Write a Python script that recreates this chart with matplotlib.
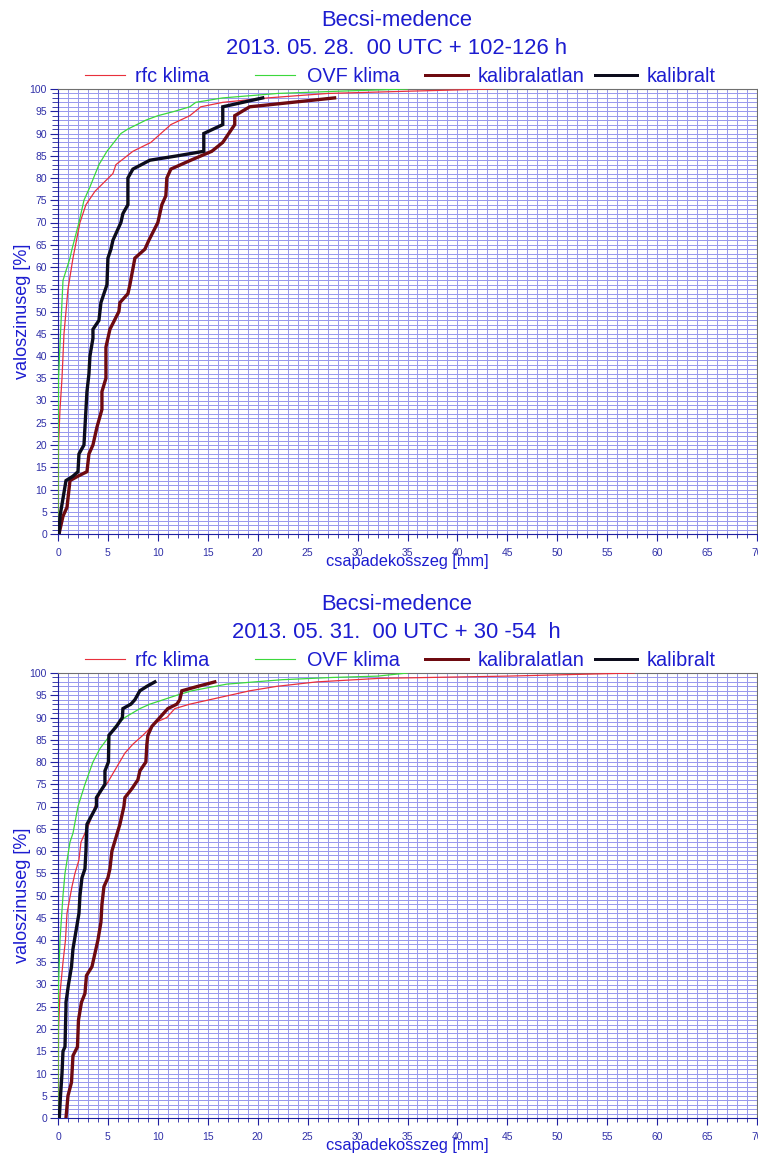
import matplotlib
matplotlib.use('Agg')
import matplotlib.pyplot as plt
from matplotlib.lines import Line2D
from matplotlib.ticker import MultipleLocator

plt.rcParams['font.family'] = ['Liberation Sans', 'DejaVu Sans']

# ---- chart 1: 2013.05.28 00 UTC + 102-126 h ----
top_title = '2013. 05. 28.  00 UTC + 102-126 h'
top_rfc_x = [0.0, 0.02, 0.05, 0.2, 0.4, 0.6, 1.0, 1.5, 2.2, 2.8, 3.7, 5.5, 5.8, 7.5, 9.3, 10.3,
             11.3, 13.2, 14.3, 16.5, 21.0, 27.0, 35.0, 43.5]
top_rfc_y = [0, 10, 20, 28, 35, 45, 55, 62, 70, 74, 77, 81, 83, 86, 88, 90,
             92, 94, 96, 97, 98, 99, 99.5, 100]
top_ovf_x = [0.0, 0.02, 0.05, 0.25, 0.5, 1.2, 1.4, 2.1, 2.6, 3.2, 4.1, 4.9, 6.3, 7.0, 8.8,
             10.0, 11.7, 13.2, 13.8, 16.5, 22.0, 28.0, 35.0]
top_ovf_y = [0, 20, 35, 45, 57, 62, 64, 70, 75, 78, 83, 86, 90, 91, 93,
             94, 95, 96, 97, 98, 99, 99.5, 100]
top_unc_x = [0.1, 0.5, 0.9, 1.2, 2.0, 2.9, 3.1, 3.5, 3.9, 4.4, 4.4, 4.8, 4.8, 5.2, 6.1, 6.2,
             7.0, 7.2, 7.7, 8.7, 9.1, 10.0, 10.4, 10.8, 10.9, 11.3, 13.3, 15.4, 16.5, 17.7,
             17.7, 19.2, 27.7]
top_unc_y = [0, 4, 6, 12, 13, 14, 18, 20, 24, 28, 32, 35, 42, 46, 50, 52,
             54, 56, 62, 64, 66, 70, 74, 76, 80, 82, 84, 86, 88, 92,
             94, 96, 98]
top_cal_x = [0.1, 0.2, 0.5, 0.8, 1.5, 2.0, 2.1, 2.6, 2.9, 3.1, 3.2, 3.5, 3.5, 4.1, 4.3, 4.9,
             5.0, 5.3, 5.5, 6.3, 6.5, 7.0, 7.0, 7.5, 9.2, 12.0, 14.6, 14.6, 16.5, 16.5, 20.5]
top_cal_y = [0, 4, 8, 12, 13, 14, 18, 20, 32, 36, 40, 44, 46, 48, 52, 56,
             62, 64, 66, 70, 72, 74, 80, 82, 84, 85, 86, 90, 92, 96, 98]

# ---- chart 2: 2013.05.31 00 UTC + 30-54 h ----
bot_title = '2013. 05. 31.  00 UTC + 30 -54  h'
bot_rfc_x = [0.0, 0.03, 0.05, 0.2, 0.5, 0.75, 0.9, 1.4, 1.7, 2.1, 2.3, 3.1, 3.7, 4.2, 5.0,
             6.7, 7.5, 8.5, 9.4, 9.9, 10.9, 11.7, 13.2, 16.2, 19.2, 21.9, 25.9, 32.2, 45.0, 57.7]
bot_rfc_y = [0, 10, 20, 28, 35, 40, 46, 52, 55, 58, 62, 66, 70, 73, 75.5,
             82, 84, 86, 88, 89, 90, 92, 93, 94.5, 96, 97, 98, 98.8, 99.3, 100]
bot_ovf_x = [0.0, 0.02, 0.05, 0.2, 0.5, 0.7, 1.2, 1.5, 2.0, 2.7, 3.5, 4.2, 5.2, 5.7, 6.7,
             8.2, 9.2, 11.9, 13.4, 16.9, 22.5, 27.5, 32.0, 35.0]
bot_ovf_y = [0, 20, 30, 40, 50, 55, 62, 64, 70, 75, 80, 83, 86, 88, 90,
             92, 93, 95, 96, 97.5, 98.5, 99, 99.3, 100]
bot_unc_x = [0.8, 1.0, 1.35, 1.5, 1.95, 2.05, 2.35, 2.7, 2.85, 3.4, 4.0, 4.3, 4.4, 4.6, 5.0,
             5.2, 5.4, 6.2, 6.6, 6.7, 7.4, 8.0, 8.2, 8.8, 8.9, 9.0, 9.4, 10.2, 11.0, 11.9,
             12.2, 12.4, 14.0, 15.7]
bot_unc_y = [0, 5, 8, 14, 16, 22, 26, 28, 32, 34, 40, 44, 48, 52, 54,
             56, 60, 66, 70, 72, 74, 76, 78, 80, 84, 86, 88, 90, 92, 93,
             94, 96, 97, 98]
bot_cal_x = [0.13, 0.25, 0.4, 0.5, 0.7, 0.8, 0.8, 1.05, 1.2, 1.35, 1.5, 1.8, 2.1, 2.2, 2.4,
             2.7, 2.8, 2.85, 2.9, 3.85, 3.85, 4.7, 4.7, 5.05, 5.1, 5.85, 6.45, 6.5, 7.3, 7.7,
             8.2, 8.9, 9.7]
bot_cal_y = [0, 5, 10, 15, 16, 25, 26, 30, 32, 34, 38, 42, 46, 50, 54,
             56, 60, 64, 66, 70, 72, 75, 78, 80, 86, 88, 90, 92, 93, 94,
             96, 97, 98]

series_names = ['rfc klima', 'OVF klima', 'kalibralatlan', 'kalibralt']
series_colors = ['#e8303c', '#3cd83c', '#6e0a10', '#0c0c1c']
series_widths = [0.9, 0.9, 2.4, 2.4]

BLUE = '#1c1cd0'
TICKBLUE = '#3030a8'
GRID = '#9a9aec'
W, H = 758, 1153

fig = plt.figure(figsize=(W / 100, H / 100), dpi=100)


def panel(top_px, title2, data):
    bottom_px = top_px + 445
    ax = fig.add_axes([58 / W, 1 - bottom_px / H, 699 / W, 445 / H])
    for (xs, ys), c, lw in zip(data, series_colors, series_widths):
        ax.plot(xs, ys, color=c, lw=lw, solid_joinstyle='miter', zorder=3)
    ax.set_xlim(0, 70)
    ax.set_ylim(0, 100)
    ax.xaxis.set_major_locator(MultipleLocator(5))
    ax.xaxis.set_minor_locator(MultipleLocator(1))
    ax.yaxis.set_major_locator(MultipleLocator(5))
    ax.yaxis.set_minor_locator(MultipleLocator(1))
    ax.set_axisbelow(True)
    ax.tick_params(which='both', direction='out', color='#2020a0', labelcolor=TICKBLUE,
                   labelsize=7.5)
    ax.tick_params(axis='x', which='major', length=5, pad=5)
    ax.tick_params(axis='x', which='minor', length=3)
    ax.tick_params(axis='y', which='major', length=6, pad=2)
    ax.tick_params(axis='y', which='minor', length=4)
    # one uniform 1-unit grid, drawn only by the minor ticks
    ax.xaxis.remove_overlapping_locs = False
    ax.yaxis.remove_overlapping_locs = False
    ax.grid(which='major', visible=False)
    ax.grid(which='minor', visible=True, color=GRID, lw=0.72, snap=True)
    for s in ['left', 'bottom']:
        ax.spines[s].set_color('#2020a0')
    for s in ['top', 'right']:
        ax.spines[s].set_color('#707070')
    ax.set_xlabel('csapadekosszeg [mm]', color=BLUE, fontsize=11.8, labelpad=-3)
    ax.set_ylabel('valoszinuseg [%]', color=BLUE, fontsize=13, labelpad=-1)

    fig.text(397 / W, 1 - (top_px - 69) / H, 'Becsi-medence', color=BLUE, fontsize=15.8,
             ha='center', va='center')
    fig.text(396 / W, 1 - (top_px - 41) / H, title2, color=BLUE, fontsize=15.8,
             ha='center', va='center')

    # legend row
    ly = 1 - (top_px - 14) / H
    handles = [(85, 125, 135), (255, 295, 307), (425, 468, 478), (595, 637, 647)]
    for (x0, x1, xt), name, c, lw in zip(handles, series_names, series_colors, series_widths):
        fig.add_artist(Line2D([x0 / W, x1 / W], [ly, ly], color=c, lw=lw * 0.9,
                              transform=fig.transFigure))
        fig.text(xt / W, ly - 1.5 / H, name, color=BLUE, fontsize=14.3, ha='left', va='center')
    return ax


panel(89, top_title, [(top_rfc_x, top_rfc_y), (top_ovf_x, top_ovf_y),
                      (top_unc_x, top_unc_y), (top_cal_x, top_cal_y)])
panel(673, bot_title, [(bot_rfc_x, bot_rfc_y), (bot_ovf_x, bot_ovf_y),
                       (bot_unc_x, bot_unc_y), (bot_cal_x, bot_cal_y)])

fig.savefig('out.png', dpi=100)
